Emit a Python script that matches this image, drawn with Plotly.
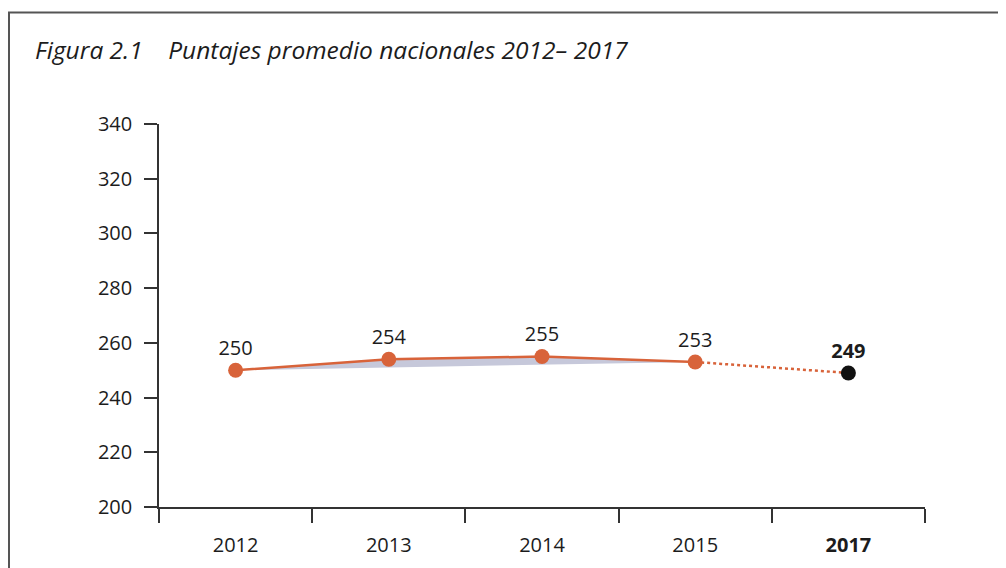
import plotly.graph_objects as go

years = ["2012", "2013", "2014", "2015", "2017"]
scores = [250, 254, 255, 253, 249]
tick_text = ["2012", "2013", "2014", "2015", "<b>2017</b>"]
y_ticks = [200, 220, 240, 260, 280, 300, 320, 340]

ORANGE = "#d8633a"
FONT = "Open Sans"
TXT = "#1c1c1c"

# page body has an 8px offset; layout numbers below compensate for it
L, T = 151, 116
PW, PH = 766, 383

fig = go.Figure()

solid_x = years[:4]
solid_y = scores[:4]
fig.add_trace(go.Scatter(
    x=solid_x + [solid_x[0]], y=solid_y + [solid_y[0]],
    mode="lines", fill="toself", fillcolor="#c6c8da",
    line=dict(width=0), hoverinfo="skip", showlegend=False))

fig.add_trace(go.Scatter(
    x=years[3:], y=scores[3:], mode="lines",
    line=dict(color=ORANGE, width=2.5, dash="dot"), showlegend=False))

fig.add_trace(go.Scatter(
    x=solid_x, y=solid_y, mode="lines+markers+text",
    line=dict(color=ORANGE, width=2.5),
    marker=dict(color=ORANGE, size=15),
    text=[str(v) for v in solid_y], textposition="top center",
    textfont=dict(family=FONT, size=20, color=TXT),
    showlegend=False))

fig.add_trace(go.Scatter(
    x=years[4:], y=scores[4:], mode="markers+text",
    marker=dict(color="#111111", size=15),
    text=["<b>%d</b>" % v for v in scores[4:]], textposition="top center",
    textfont=dict(family=FONT, size=20, color=TXT),
    showlegend=False))

fig.update_layout(
    width=1006, height=568,
    margin=dict(l=L, r=1006 - L - PW, t=T, b=568 - T - PH),
    paper_bgcolor="white", plot_bgcolor="white",
    font=dict(family=FONT, size=20, color=TXT),
    xaxis=dict(type="category", categoryorder="array", categoryarray=years,
               tickvals=years, ticktext=tick_text, tickson="boundaries",
               range=[-0.5, 4.5], showgrid=False, zeroline=False,
               showline=True, linecolor="#333", linewidth=1.5,
               ticks="outside", ticklen=14, tickwidth=1.5, tickcolor="#333",
               ticklabelstandoff=19, tickfont=dict(size=20)),
    yaxis=dict(range=[200, 340], tickvals=y_ticks, showgrid=False,
               zeroline=False, showline=True, linecolor="#333", linewidth=1.5,
               ticks="outside", ticklen=13, tickwidth=1.5, tickcolor="#333",
               ticklabelstandoff=8, tickfont=dict(size=20)),
    shapes=[dict(type="rect", xref="paper", yref="paper",
                 x0=(1 - L) / PW, x1=1.3, y0=-0.3, y1=(T + PH - 4.5) / PH,
                 line=dict(color="#555", width=2), fillcolor="rgba(0,0,0,0)",
                 layer="below")],
    annotations=[dict(text="Figura 2.1\u00a0\u00a0\u00a0\u00a0Puntajes promedio nacionales 2012\u2013 2017",
                      xref="paper", yref="paper",
                      x=(25 - L) / PW, y=(T + PH - 42) / PH,
                      xanchor="left", yanchor="middle", showarrow=False,
                      font=dict(family=FONT, size=24.5, color=TXT, style="italic"))],
)

fig.write_html("out.html")
